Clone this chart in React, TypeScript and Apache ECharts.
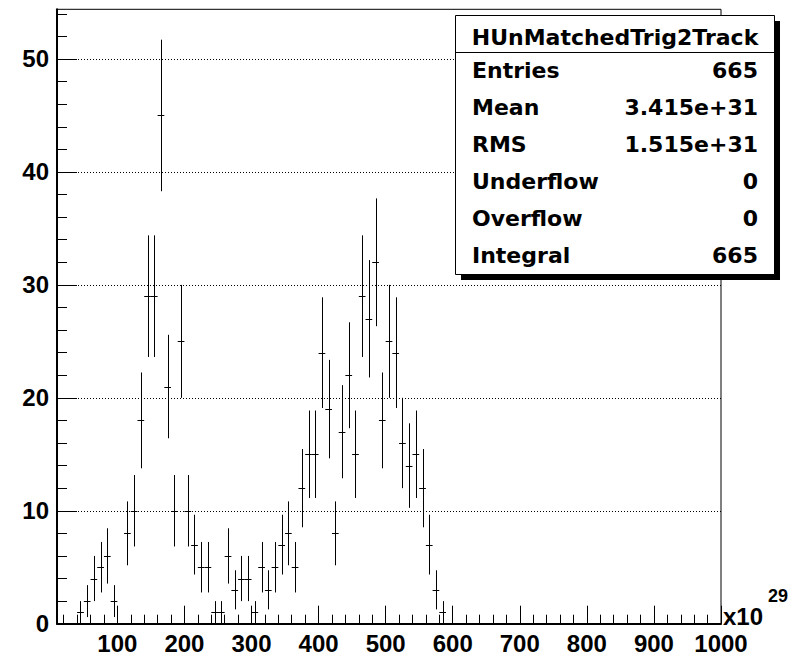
import React, { useEffect, useRef } from 'react';
import * as echarts from 'echarts';

// Histogram HUnMatchedTrig2Track: bins of width 10 (x10^29), first bin centre 15
const binFirstCenter = 15;
const binWidth = 10;
const counts = [
  0, 0, 0, 1, 2, 4, 5, 6, 2, 0,
  8, 10, 18, 29, 29, 45, 21, 10, 25, 10,
  7, 5, 5, 1, 1, 6, 3, 4, 4, 1,
  5, 3, 5, 7, 8, 5, 12, 15, 15, 24,
  19, 8, 17, 22, 15, 29, 27, 32, 18, 25,
  24, 16, 14, 15, 12, 7, 3, 1,
];

const xMin = 10;
const xMax = 1000;
const yMin = 0;
const yMax = 54.4;
const xMajorTicks = [100, 200, 300, 400, 500, 600, 700, 800, 900, 1000];
const xMinorTicks = Array.from({ length: 49 }, (_, i) => 20 + 20 * i).filter((v) => v % 100 !== 0);
const yMajorTicks = [0, 10, 20, 30, 40, 50];
const yMinorTicks = [2, 4, 6, 8, 12, 14, 16, 18, 22, 24, 26, 28, 32, 34, 36, 38, 42, 44, 46, 48, 52, 54];

const statsTitle = 'HUnMatchedTrig2Track';
const statLabels = ['Entries', 'Mean', 'RMS', 'Underflow', 'Overflow', 'Integral'];
const statValues = ['665', '3.415e+31', '1.515e+31', '0', '0', '665'];

const axisFont = 'Liberation Sans, Arial, sans-serif';
const statFont = 'DejaVu Sans, sans-serif';

export default function App() {
  const ref = useRef<HTMLDivElement>(null);

  useEffect(() => {
    if (!ref.current) return;
    const chart = echarts.init(ref.current, null, { renderer: 'svg' });

    const data = counts
      .map((c, i) => [binFirstCenter + binWidth * i, c, Math.sqrt(c)])
      .filter((d) => d[1] > 0);

    const rowY = [70, 107, 144, 181, 218, 255];

    const graphics: any[] = [
      // stats box shadow
      { type: 'rect', shape: { x: 461, y: 21, width: 319, height: 259 }, style: { fill: '#000' }, z: 100 },
      { type: 'rect', shape: { x: 455.5, y: 15.5, width: 319, height: 259 }, style: { fill: '#fff', stroke: '#000', lineWidth: 1 }, z: 101 },
      { type: 'line', shape: { x1: 455.5, y1: 52.5, x2: 774.5, y2: 52.5 }, style: { stroke: '#000', lineWidth: 1 }, z: 102 },
      {
        type: 'text', x: 615, y: 37, z: 103,
        style: { text: statsTitle, font: `bold 22px ${statFont}`, fill: '#000', textAlign: 'center', textVerticalAlign: 'middle' },
      },
      // x10^29
      {
        type: 'text', x: 723, y: 616, z: 103,
        style: { text: 'x10', font: `bold 24px ${axisFont}`, fill: '#000', textAlign: 'left', textVerticalAlign: 'middle' },
      },
      {
        type: 'text', x: 768, y: 596, z: 103,
        style: { text: '29', font: `bold 18px ${axisFont}`, fill: '#000', textAlign: 'left', textVerticalAlign: 'middle' },
      },
    ];
    statLabels.forEach((lab, i) => {
      graphics.push({
        type: 'text', x: 472, y: rowY[i], z: 103,
        style: { text: lab, font: `bold 22px ${statFont}`, fill: '#000', textAlign: 'left', textVerticalAlign: 'middle' },
      });
      graphics.push({
        type: 'text', x: 758, y: rowY[i], z: 103,
        style: { text: statValues[i], font: `bold 22px ${statFont}`, fill: '#000', textAlign: 'right', textVerticalAlign: 'middle' },
      });
    });

    const labelStyle = {
      fontFamily: axisFont, fontWeight: 'bold' as const, fontSize: 24, color: '#000',
      formatter: (v: number) => String(v),
    };

    chart.setOption({
      animation: false,
      backgroundColor: '#fff',
      grid: {
        left: 57, right: 80, top: 9.3, bottom: 32.3,
        show: true, borderColor: '#000', borderWidth: 1, backgroundColor: 'transparent',
        containLabel: false,
      },
      xAxis: [
        {
          type: 'value', min: xMin, max: xMax, position: 'bottom',
          axisLine: { show: true, lineStyle: { color: '#000', width: 2 } },
          axisTick: { show: true, inside: true, length: 18, customValues: xMajorTicks, lineStyle: { color: '#000', width: 1 } },
          axisLabel: { show: true, customValues: xMajorTicks, margin: 8, ...labelStyle },
          splitLine: { show: false },
        },
        {
          type: 'value', min: xMin, max: xMax, position: 'bottom',
          axisLine: { show: false },
          axisTick: { show: true, inside: true, length: 9, customValues: xMinorTicks, lineStyle: { color: '#000', width: 1 } },
          axisLabel: { show: false },
          splitLine: { show: false },
        },
      ],
      yAxis: [
        {
          type: 'value', min: yMin, max: yMax, interval: 10, position: 'left',
          axisLine: { show: true, lineStyle: { color: '#000', width: 2 } },
          axisTick: { show: true, inside: true, length: 20, customValues: yMajorTicks, lineStyle: { color: '#000', width: 1 } },
          axisLabel: { show: true, customValues: yMajorTicks, margin: 8, ...labelStyle },
          splitLine: { show: true, lineStyle: { color: '#000', width: 1, type: [1, 2] } },
        },
        {
          type: 'value', min: yMin, max: yMax, position: 'left',
          axisLine: { show: false },
          axisTick: { show: true, inside: true, length: 10, customValues: yMinorTicks, lineStyle: { color: '#000', width: 1 } },
          axisLabel: { show: false },
          splitLine: { show: false },
        },
      ],
      series: [
        {
          type: 'custom',
          xAxisIndex: 0,
          yAxisIndex: 0,
          data,
          renderItem: (params: any, api: any) => {
            const x = api.value(0);
            const y = api.value(1);
            const e = api.value(2);
            const top = api.coord([x, y + e]);
            const bot = api.coord([x, y - e]);
            const l = api.coord([x - binWidth / 2, y]);
            const r = api.coord([x + binWidth / 2, y]);
            const cx = Math.round(top[0]) + 0.5;
            const cy = Math.round(l[1]) + 0.5;
            return {
              type: 'group',
              children: [
                { type: 'line', shape: { x1: cx, y1: top[1], x2: cx, y2: bot[1] }, style: { stroke: '#000', lineWidth: 1 } },
                { type: 'line', shape: { x1: l[0], y1: cy, x2: r[0], y2: cy }, style: { stroke: '#000', lineWidth: 1 } },
              ],
            };
          },
        },
      ],
      graphic: graphics,
    });

    return () => chart.dispose();
  }, []);

  return (
    <div
      ref={ref}
      style={{ position: 'fixed', left: 0, top: 0, width: 801, height: 656, background: '#fff' }}
    />
  );
}
